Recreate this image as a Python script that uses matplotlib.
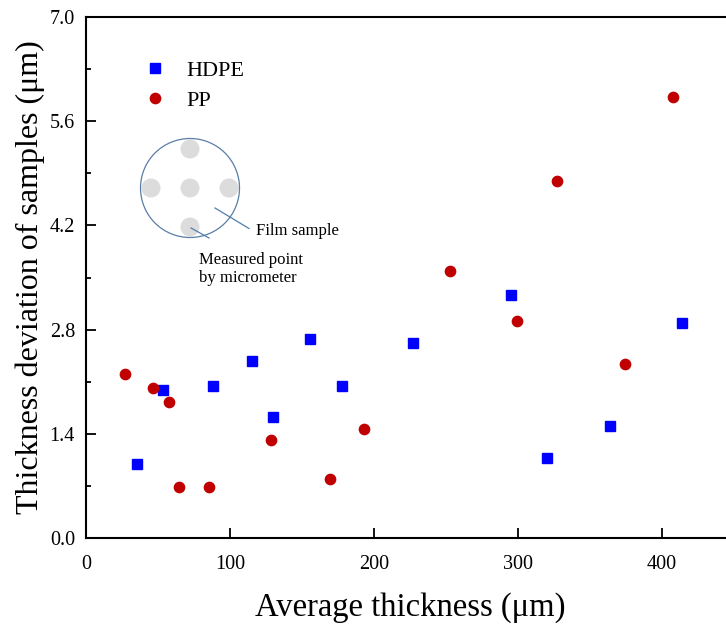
import numpy as np
import matplotlib
matplotlib.use("Agg")
import matplotlib.pyplot as plt
from matplotlib.patches import Circle
from matplotlib.ticker import MultipleLocator, AutoMinorLocator

plt.rcParams['font.family'] = ['Liberation Serif', 'DejaVu Serif']

# HDPE samples: average thickness (um) vs thickness deviation (um)
hdpe_x = [35.2, 53.7, 88.2, 115.3, 130.1, 155.3, 178.0, 227.1, 295.1, 320.1, 363.9, 413.9]
hdpe_y = [0.99, 1.99, 2.04, 2.38, 1.62, 2.68, 2.04, 2.62, 3.26, 1.08, 1.51, 2.89]

# PP samples
pp_x = [26.9, 46.3, 57.4, 64.6, 85.6, 128.5, 169.7, 192.8, 252.8, 299.1, 327.3, 374.5, 407.6]
pp_y = [2.21, 2.02, 1.83, 0.68, 0.68, 1.32, 0.79, 1.46, 3.59, 2.92, 4.80, 2.34, 5.92]

# measured points on the film sample (inset sketch)
dot_x = [0, -0.78, 0.78, 0, 0]
dot_y = [0, 0, 0, 0.78, -0.78]

W, H = 726, 630
fig = plt.figure(figsize=(W / 100, H / 100), dpi=100)

# axes in pixel box: left 86, bottom 538, top 17, x=450 beyond right edge
ax = fig.add_axes([86 / W, (H - 538) / H, 648 / W, 521 / H])
ax.plot(hdpe_x, hdpe_y, 's', color='#0000ff', markersize=6.6, label='HDPE', clip_on=False)
ax.plot(pp_x, pp_y, 'o', color='#c00000', markersize=7.4, label='PP', clip_on=False)

ax.set_xlim(0, 450)
ax.set_ylim(0, 7.0)
ax.xaxis.set_major_locator(MultipleLocator(100))
ax.yaxis.set_major_locator(MultipleLocator(1.4))
ax.yaxis.set_minor_locator(AutoMinorLocator(2))
ax.yaxis.set_major_formatter(plt.FormatStrFormatter('%.1f'))

for s in ax.spines.values():
    s.set_linewidth(1.5)
ax.tick_params(axis='both', which='major', direction='in', length=7.5, width=1.3,
               labelsize=14.5)
ax.tick_params(axis='y', which='minor', direction='in', length=3.8, width=1.3)
ax.tick_params(axis='x', pad=12.5)
ax.tick_params(axis='y', pad=8)

ax.set_xlabel('Average thickness (μm)', fontsize=23.5, labelpad=13)
ax.set_ylabel('Thickness deviation of samples (μm)', fontsize=23, labelpad=3.5)

ax.legend(loc='upper left', bbox_to_anchor=(0.089, 0.917), frameon=False,
          fontsize=16, handlelength=1.0, handletextpad=0.9, labelspacing=0.42,
          borderpad=0, borderaxespad=0, numpoints=1)

# inset sketch of the film sample
ins = fig.add_axes([130 / W, (H - 248) / H, 120 / W, 120 / H])
ins.set_xlim(-1.2, 1.2)
ins.set_ylim(-1.2, 1.2)
ins.set_aspect('equal')
ins.axis('off')
for dx, dy in zip(dot_x, dot_y):
    ins.add_patch(Circle((dx, dy), 0.19, color='#dcdcdc', lw=0))
ins.add_patch(Circle((0, 0), 0.99, fill=False, ec='#5a7ea6', lw=0.9))
ins.plot([0.5, 1.18], [-0.4, -0.81], color='#4f7fae', lw=0.9, clip_on=False)
ins.plot([0.02, 0.38], [-0.8, -1.0], color='#4f7fae', lw=0.9, clip_on=False)

fig.text(256 / W, 1 - 231 / H, 'Film sample', fontsize=12, va='center', ha='left')
fig.text(199 / W, 1 - 269 / H, 'Measured point\nby micrometer', fontsize=12,
         va='center', ha='left', linespacing=1.2)

fig.savefig('out.png', dpi=100)
